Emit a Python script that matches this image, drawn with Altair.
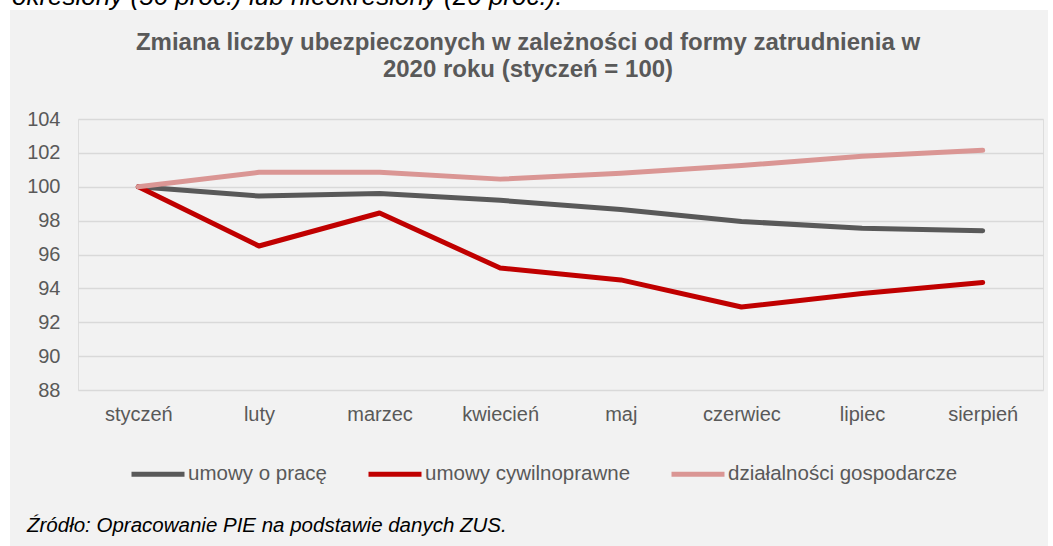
import altair as alt
import pandas as pd

months = ["styczeń", "luty", "marzec", "kwiecień", "maj", "czerwiec", "lipiec", "sierpień"]
series_names = ["umowy o pracę", "umowy cywilnoprawne", "działalności gospodarcze"]
umowy_o_prace = [100, 99.45, 99.6, 99.2, 98.65, 97.95, 97.55, 97.4]
umowy_cywilnoprawne = [100, 96.5, 98.45, 95.2, 94.5, 92.9, 93.7, 94.35]
dzialalnosci = [100, 100.85, 100.85, 100.45, 100.8, 101.25, 101.8, 102.15]
colors = ["#595959", "#C00000", "#DA9694"]
y_ticks = [88, 90, 92, 94, 96, 98, 100, 102, 104]

title_text = "Zmiana liczby ubezpieczonych w zależności od formy zatrudnienia w\n2020 roku (styczeń = 100)"
top_text = "określony (56 proc.) lub nieokreślony (20 proc.)."
source_text = "Źródło: Opracowanie PIE na podstawie danych ZUS."

FONT = "Liberation Sans, Arial, sans-serif"

rows = []
for name, vals in zip(series_names, [umowy_o_prace, umowy_cywilnoprawne, dzialalnosci]):
    for m, v in zip(months, vals):
        rows.append({"miesiac": m, "seria": name, "wartosc": v})
df = pd.DataFrame(rows)
one = pd.DataFrame({"a": [0]})

W, H = 965, 271
PL, PT = 78, 119

lines = alt.Chart(df).mark_line(strokeWidth=5, strokeCap="round", strokeJoin="round").encode(
    x=alt.X("miesiac:N", sort=months, title=None,
            axis=alt.Axis(labelAngle=0, ticks=False, tickSize=0, domain=False, grid=False,
                          labelPadding=14, labelFontSize=20, labelColor="#595959", labelFont=FONT)),
    y=alt.Y("wartosc:Q", title=None,
            scale=alt.Scale(domain=[88, 104], nice=False, zero=False),
            axis=alt.Axis(values=y_ticks, ticks=False, tickSize=0, domain=False, grid=True,
                          gridColor="#D9D9D9", gridWidth=1.5, labelPadding=18,
                          labelFontSize=20, labelColor="#595959", labelFont=FONT)),
    color=alt.Color("seria:N", scale=alt.Scale(domain=series_names, range=colors),
                    legend=alt.Legend(title=None, orient="none", legendX=51, legendY=326,
                                      direction="horizontal", symbolType="stroke",
                                      symbolSize=2809, symbolStrokeWidth=5,
                                      labelFontSize=20.5, labelColor="#595959", labelFont=FONT,
                                      columnPadding=30, labelOffset=1, padding=0,
                                      labelLimit=600)),
)

def white_rect(x, x2, y, y2):
    return alt.Chart(one).mark_rect(color="white").encode(
        x=alt.value(x), x2=alt.value(x2), y=alt.value(y), y2=alt.value(y2))

strips = [
    white_rect(-PL, 1053 - PL, -PT, 10 - PT),
    white_rect(-PL, 10 - PL, -PT, 546 - PT),
    white_rect(1048 - PL, 1053 - PL, -PT, 546 - PT),
]

top = alt.Chart(one).mark_text(align="left", baseline="alphabetic", fontSize=26,
                               fontStyle="italic", font=FONT, color="#000000").encode(
    x=alt.value(12 - PL), y=alt.value(5 - PT), text=alt.value(top_text))

title = alt.Chart(one).mark_text(align="center", baseline="alphabetic", fontSize=24,
                                 fontWeight="bold", font=FONT, color="#595959",
                                 lineBreak="\n", lineHeight=27).encode(
    x=alt.value(528 - PL), y=alt.value(50 - PT), text=alt.value(title_text))

source = alt.Chart(one).mark_text(align="left", baseline="alphabetic", fontSize=20.5,
                                  fontStyle="italic", font=FONT, color="#000000").encode(
    x=alt.value(27 - PL), y=alt.value(532 - PT), text=alt.value(source_text))

chart = alt.layer(*strips, lines, top, title, source).properties(
    width=W, height=H,
    autosize=alt.AutoSizeParams(type="none"),
    padding={"left": PL, "top": PT, "right": 1053 - PL - W, "bottom": 546 - PT - H},
    background="#F2F2F2",
).configure_view(stroke=None).configure(font=FONT)

chart.save("out.html", embed_options={"renderer": "svg", "actions": False})
